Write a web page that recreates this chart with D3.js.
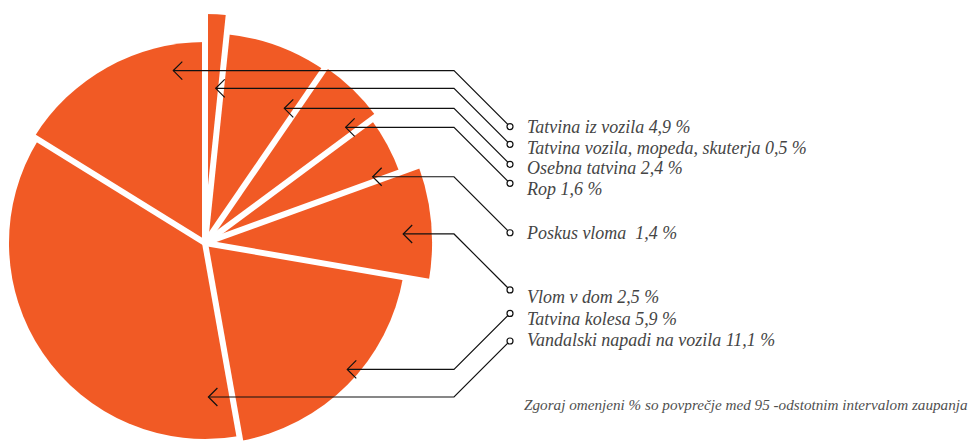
<!DOCTYPE html>
<html>
<head>
<meta charset="utf-8">
<script src="https://cdn.jsdelivr.net/npm/d3@7"></script>
<style>
  html, body { margin: 0; padding: 0; background: #ffffff; }
  svg { display: block; }
  text { font-family: "Liberation Serif", "DejaVu Serif", serif; font-style: italic; white-space: pre; }
</style>
</head>
<body>
<div id="chart"></div>
<script>
// ---------------- data (legend order; the pie is drawn clockwise, first slice ending at 12 o'clock)
const categories = [
  "Tatvina iz vozila",
  "Tatvina vozila, mopeda, skuterja",
  "Osebna tatvina",
  "Rop",
  "Poskus vloma ",
  "Vlom v dom",
  "Tatvina kolesa",
  "Vandalski napadi na vozila"
];
const values = [4.9, 0.5, 2.4, 1.6, 1.4, 2.5, 5.9, 11.1];
// relative reach of each slice (outer radius, 1 = base radius)
const reach = [1.005, 1.145, 1.05, 1.065, 1.035, 1.135, 1.005, 0.98];
// where each callout arrow points inside its slice: share of the slice angle, share of its radius
const anchorAngleShare = [0.821, 0.667, 0.861, 0.847, 0.90, 0.582, 0.454, 0.067];
const anchorRadiusShare = [0.872, 0.677, 0.744, 0.855, 0.871, 0.874, 0.947, 0.786];
const footnote = "Zgoraj omenjeni % so povprečje med 95 -odstotnim intervalom zaupanja";

// ---------------- layout
const W = 971, H = 441;
const cx = 205, cy = 243;
const baseRadius = 200;
const bendX = 454, dotX = 510, labelX = 527;
const labelBaselines = [132.5, 153.5, 174, 195, 239, 303, 325, 346];
const labelWidthTarget = 280;   // width of the longest label
const footX = 524, footY = 410, footWidthTarget = 444;
const orange = "#f15a25";

const svg = d3.select("#chart").append("svg")
  .attr("width", W).attr("height", H)
  .attr("viewBox", `0 0 ${W} ${H}`);

const total = d3.sum(values);
const startAngle = -values[0] / total * 2 * Math.PI;
const pie = d3.pie().sort(null).value(d => d.value)
  .startAngle(startAngle).endAngle(startAngle + 2 * Math.PI);
const rScale = d3.scaleLinear().domain([0, 1]).range([0, baseRadius]);

const rows = categories.map((c, i) => ({
  name: c, value: values[i], reach: reach[i],
  at: anchorAngleShare[i], ar: anchorRadiusShare[i], labelY: labelBaselines[i]
}));
const arcs = pie(rows);

const g = svg.append("g").attr("transform", `translate(${cx},${cy})`);
const arc = d3.arc().innerRadius(0).outerRadius(d => rScale(d.data.reach));

g.selectAll("path.slice").data(arcs).join("path")
  .attr("class", "slice")
  .attr("d", arc)
  .attr("fill", orange);

// white separators between slices
const n = arcs.length;
g.selectAll("line.sep").data(arcs).join("line")
  .attr("class", "sep")
  .attr("x1", 0).attr("y1", 0)
  .attr("x2", (d, i) => {
    const R = Math.max(rScale(d.data.reach), rScale(arcs[(i - 1 + n) % n].data.reach)) + 6;
    return R * Math.sin(d.startAngle);
  })
  .attr("y2", (d, i) => {
    const R = Math.max(rScale(d.data.reach), rScale(arcs[(i - 1 + n) % n].data.reach)) + 6;
    return -R * Math.cos(d.startAngle);
  })
  .attr("stroke", "#ffffff")
  .attr("stroke-width", 6);

// ---------------- callouts
const fmt = d3.formatLocale({decimal: ",", thousands: ".", grouping: [3], currency: ["", " €"]}).format(".1f");

const callouts = arcs.map(d => {
  const a = d.startAngle + d.data.at * (d.endAngle - d.startAngle);
  const r = d.data.ar * rScale(d.data.reach);
  const tx = cx + r * Math.sin(a), ty = cy - r * Math.cos(a);
  const dir = d.data.labelY > ty ? 1 : -1;
  return {d, tx, ty, dotY: ty + dir * (dotX - bendX)};
});

const lead = svg.append("g").attr("fill", "none").attr("stroke", "#111").attr("stroke-width", 1.2);
lead.selectAll("path.leader").data(callouts).join("path")
  .attr("class", "leader")
  .attr("d", c => d3.line()([[c.tx, c.ty], [bendX, c.ty], [dotX, c.dotY]]));
lead.selectAll("path.head").data(callouts).join("path")
  .attr("class", "head")
  .attr("d", c => d3.line()([[c.tx + 9, c.ty - 9], [c.tx, c.ty], [c.tx + 9, c.ty + 9]]));
lead.selectAll("circle").data(callouts).join("circle")
  .attr("cx", dotX).attr("cy", c => c.dotY).attr("r", 3)
  .attr("fill", "#fff");

const labels = svg.append("g").attr("fill", "#454545");
const labelSel = labels.selectAll("text").data(arcs).join("text")
  .attr("x", labelX).attr("y", d => d.data.labelY)
  .attr("font-size", 18)
  .text(d => `${d.data.name} ${fmt(d.data.value)} %`);

// fit the label size to the width
const longest = d3.max(labelSel.nodes(), t => t.getComputedTextLength());
labelSel.attr("font-size", 18 * labelWidthTarget / longest);

const foot = svg.append("text")
  .attr("x", footX).attr("y", footY)
  .attr("fill", "#505050")
  .attr("font-size", 15)
  .text(footnote);
const fw = foot.node().getComputedTextLength();
foot.attr("font-size", 15 * footWidthTarget / fw);
</script>
</body>
</html>
